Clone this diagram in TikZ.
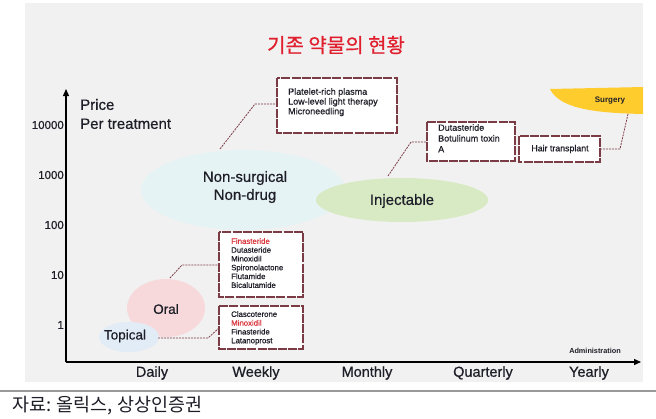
\documentclass[tikz,border=0pt]{standalone}
\usepackage{fontspec}
\setmainfont{Liberation Sans}
\newfontfamily\med{Liberation Sans}[FakeBold=0.6]
\newfontfamily\kr{Noto Sans CJK KR}
\newfontfamily\krb{Noto Sans CJK KR}[FakeBold=0.8]
\usetikzlibrary{arrows.meta}
\definecolor{bggray}{HTML}{F1F1F1}
\definecolor{boxred}{HTML}{7B3B45}
\definecolor{titlered}{HTML}{E0202E}
\definecolor{ndblue}{HTML}{E6F3F4}
\definecolor{injgreen}{HTML}{D8EAC4}
\definecolor{oralpink}{HTML}{F7D9DB}
\definecolor{topblue}{HTML}{E2ECF7}
\definecolor{surgyellow}{HTML}{FFCC2E}
\definecolor{finred}{HTML}{D9363E}
\definecolor{txt}{HTML}{1E1E28}
\begin{document}
\begin{tikzpicture}[x=1pt,y=-1pt, every node/.style={text=txt},
  listbox/.style={draw=boxred, line width=1.1pt, dash pattern=on 9pt off 1.2pt, fill=white, inner sep=0pt},
  conn/.style={draw=boxred, line width=0.8pt, dash pattern=on 2pt off 1pt},
  lbl/.style={align=left, anchor=north west, inner sep=0pt},
  axlbl/.style={font=\med\fontsize{14.5}{16}\selectfont},
  tick/.style={font=\med\fontsize{11.5}{12}\selectfont, anchor=east, inner sep=0pt}]
\useasboundingbox (0,0) rectangle (656,418);
\fill[bggray] (25,3) rectangle (643,382);
\draw[gray!80, line width=1.5pt] (0,391) -- (656,391);
\node[anchor=west, inner sep=0pt, font=\kr\fontsize{18.5}{20}\selectfont] (src) at (12,406) {자료: 올릭스, 상상인증권};

% title
\node[font=\krb\fontsize{20}{22}\selectfont, text=titlered] (title) at (336,45) {기존 약물의 현황};

% axes
\coordinate (origin) at (66,362);
\coordinate (ytip) at (66,89);
\coordinate (xtip) at (641,362);
\draw[line width=1.3pt, -{Triangle[length=7pt,width=6pt]}] (origin) -- (ytip);
\draw[line width=1.3pt, -{Triangle[length=7pt,width=6pt]}] (origin) -- (xtip);

\node[anchor=west, inner sep=0pt, align=left, font=\med\fontsize{15}{19}\selectfont] (price) at (80,114) {Price\\Per treatment};

\node[tick] (t4) at (64,125) {10000};
\node[tick] (t3) at (64,175) {1000};
\node[tick] (t2) at (64,225) {100};
\node[tick] (t1) at (64,275) {10};
\node[tick] (t0) at (64,325) {1};

\node[axlbl] (daily) at (152,373) {Daily};
\node[axlbl] (weekly) at (256,373) {Weekly};
\node[axlbl] (monthly) at (367,373) {Monthly};
\node[axlbl] (quarterly) at (483,373) {Quarterly};
\node[axlbl] (yearly) at (589,373) {Yearly};
\node[font=\bfseries\fontsize{7.3}{8}\selectfont] (admin) at (595,351) {Administration};

% blobs
\fill[ndblue] (243,190) ellipse [x radius=102, y radius=40];
\fill[injgreen] (402,200) ellipse [x radius=86, y radius=22];
\fill[oralpink] (166,308) ellipse [x radius=39, y radius=29];
\fill[topblue] (129,337) ellipse [x radius=30, y radius=15];
\fill[surgyellow] (550,89) -- (643,87) -- (643,114) .. controls (600,113) and (560,110) .. (550,89) -- cycle;

\node[font=\med\fontsize{15}{18}\selectfont, align=center] (nsnd) at (245,187) {Non-surgical\\Non-drug};
\node[font=\med\fontsize{15}{17}\selectfont] (inj) at (402,201) {Injectable};
\node[font=\med\fontsize{13.5}{15}\selectfont] (oral) at (166,309) {Oral};
\node[font=\med\fontsize{13.5}{15}\selectfont] (topical) at (125,336) {Topical};
\node[font=\bfseries\fontsize{8}{9}\selectfont] (surgery) at (610,101) {Surgery};

% boxes
\draw[listbox] (277,78) rectangle (397,133);
\node[lbl, font=\med\fontsize{9}{9.8}\selectfont] (b1) at (288,88) {Platelet-rich plasma\\Low-level light therapy\\Microneedling};
\coordinate (b1l) at (277,104);

\draw[listbox] (427,122) rectangle (515,161);
\node[lbl, font=\med\fontsize{9}{10.8}\selectfont] (b2) at (438,124) {Dutasteride\\Botulinum toxin\\A};
\coordinate (b2l) at (427,142);

\draw[listbox] (519,136) rectangle (600,162);
\node[font=\med\fontsize{8.8}{10}\selectfont] (b3) at (560,149) {Hair transplant};
\coordinate (b3r) at (600,149);

\draw[listbox] (219,232) rectangle (303,297);
\node[lbl, font=\med\fontsize{7.8}{8.8}\selectfont] (b4) at (231,238) {\textcolor{finred}{Finasteride}\\Dutasteride\\Minoxidil\\Spironolactone\\Flutamide\\Bicalutamide};
\coordinate (b4l) at (219,265);

\draw[listbox] (219,306) rectangle (303,349);
\node[lbl, font=\med\fontsize{7.8}{8.8}\selectfont] (b5) at (231,311) {Clascoterone\\\textcolor{finred}{Minoxidil}\\Finasteride\\Latanoprost};
\coordinate (b5l) at (219,328);

% connectors
\coordinate (c1) at (220,149);
\draw[conn] (c1) -- (255,104) -- (b1l);
\coordinate (c2) at (388,176);
\draw[conn] (c2) -- (411,142) -- (b2l);
\coordinate (c3) at (628,114);
\draw[conn] (b3r) -- (620,149) -- (c3);
\coordinate (c4) at (170,278);
\draw[conn] (c4) -- (182,265) -- (b4l);
\coordinate (c5) at (158,338);
\draw[conn] (c5) -- (208,338) -- (b5l);
\end{tikzpicture}
\end{document}
